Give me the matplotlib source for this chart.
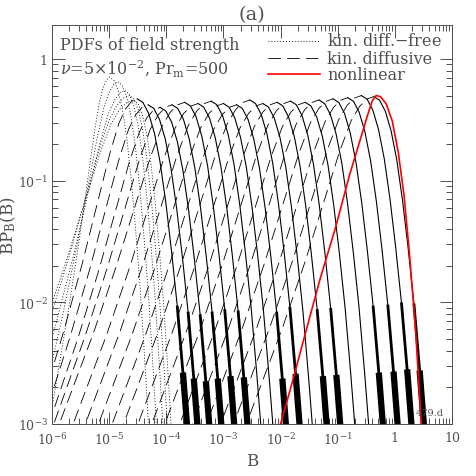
import numpy as np
import matplotlib
matplotlib.use('Agg')
import matplotlib.pyplot as plt

plt.rcParams['font.family'] = 'DejaVu Serif'
plt.rcParams['mathtext.fontset'] = 'dejavuserif'
plt.rcParams['lines.scale_dashes'] = False

# shape of one kinematic PDF, offsets from its peak in decades
left_dlogb = np.array([-2.4, -2.0, -1.6, -1.2, -0.9, -0.6, -0.4, -0.25, -0.12, 0.0])
left_dlogp = np.array([-2.9, -2.4, -1.9, -1.35, -0.9, -0.45, -0.2, -0.08, -0.02, 0.0])
right_dlogb = np.array([0.0, 0.1, 0.2, 0.3, 0.4, 0.5, 0.6, 0.7, 0.8, 0.9, 0.95])
right_dlogp = np.array([0.0, -0.03, -0.12, -0.28, -0.52, -0.85, -1.25, -1.7, -2.25, -2.85, -3.2])

# diffusion-free kinematic runs (dotted)
free_peak_b = [1.03e-5, 1.43e-5, 1.9e-5, 2.3e-5, 2.7e-5]
free_peak_p = [0.71, 0.65, 0.55, 0.50, 0.46]
free_left_w = [0.45, 0.6, 0.75, 0.9, 1.0]
free_right_w = [0.75, 0.75, 0.75, 0.75, 0.75]

# diffusive kinematic runs (dashed)
kin_peak_b = [3.1e-5, 4.8e-5, 7.8e-5, 1.26e-4, 2.1e-4, 3.6e-4, 6.1e-4, 1.0e-3,
              1.7e-3, 2.9e-3, 4.9e-3, 8.7e-3, 1.5e-2, 2.7e-2, 4.7e-2, 8.3e-2,
              0.15, 0.26, 0.43]
kin_peak_p = [0.47, 0.42, 0.40, 0.42, 0.44, 0.43, 0.45, 0.43, 0.42, 0.46,
              0.43, 0.44, 0.45, 0.44, 0.46, 0.47, 0.48, 0.50, 0.49]
kin_left_w = [0.8, 0.85, 0.9, 0.95, 1.0, 1.0, 1.0, 1.0, 1.0, 1.0,
              1.0, 1.0, 1.0, 1.0, 1.0, 1.0, 1.0, 1.0, 1.0]
kin_noisy = [1, 1, 1, 1, 1, 1, 0, 0, 1, 1, 0, 1, 1, 0, 0, 1, 1, 1, 1]

# nonlinear run (red)
nl_b = [1.0e-2, 1.6e-2, 2.7e-2, 5.0e-2, 0.09, 0.16, 0.25, 0.33, 0.4, 0.47,
        0.56, 0.7, 0.9, 1.15, 1.45, 1.8, 2.3, 2.9]
nl_p = [1.0e-3, 2.2e-3, 5.5e-3, 1.6e-2, 4.0e-2, 0.11, 0.22, 0.34, 0.45, 0.5,
        0.49, 0.43, 0.31, 0.17, 0.075, 0.025, 6e-3, 1.0e-3]

fig = plt.figure(figsize=(4.77, 4.77), dpi=100)
ax = fig.add_axes([52/477, 52/477, 400/477, 399/477])
ax.set_xscale('log')
ax.set_yscale('log')

gray = '#505050'

for b0, p0, wl, wr in zip(free_peak_b, free_peak_p, free_left_w, free_right_w):
    lb = 10**(np.log10(b0) + wl*left_dlogb)
    rb = 10**(np.log10(b0) + wr*right_dlogb)
    ax.plot(np.r_[lb, rb[1:]], p0*10**np.r_[left_dlogp, right_dlogp[1:]],
            color='k', lw=0.6, ls=(0, (0.7, 1.4)))

for i, (b0, p0, wl) in enumerate(zip(kin_peak_b, kin_peak_p, kin_left_w)):
    lb = 10**(np.log10(b0) + wl*left_dlogb)
    ax.plot(lb, p0*10**left_dlogp, color='k', lw=0.6, ls=(0, (9, 4.5)))
    rb = 10**(np.log10(b0) + right_dlogb)
    rp = p0*10**right_dlogp
    ax.plot(rb, rp, color='k', lw=0.8)
    if kin_noisy[i]:
        # noisy tails look like thick black smears
        m = rp < 1.5e-2
        ax.plot(rb[m], rp[m], color='k', lw=2, solid_capstyle='butt')
        m = rp < 5e-3
        ax.plot(rb[m], rp[m], color='k', lw=4.5, solid_capstyle='butt')

ax.plot(nl_b, nl_p, color='red', lw=1.2)

ax.set_xlim(1e-6, 10)
ax.set_ylim(1e-3, 1.9)
ax.tick_params(which='both', direction='in', top=True, right=True,
               colors=gray, labelsize=9)
ax.tick_params(which='major', length=9, width=0.7, pad=5)
ax.tick_params(which='minor', length=4.5, width=0.7)
ax.set_xticks([1e-6, 1e-5, 1e-4, 1e-3, 1e-2, 1e-1, 1, 10])
ax.set_xticklabels([r'$10^{-6}$', r'$10^{-5}$', r'$10^{-4}$', r'$10^{-3}$',
                    r'$10^{-2}$', r'$10^{-1}$', '1', '10'])
ax.set_yticks([1e-3, 1e-2, 1e-1, 1])
ax.set_yticklabels([r'$10^{-3}$', r'$10^{-2}$', r'$10^{-1}$', '1'])
ax.tick_params(axis='y', pad=3)
for s in ax.spines.values():
    s.set_color(gray)
    s.set_linewidth(0.7)

ax.set_xlabel('B', color=gray, fontsize=12, labelpad=4)
ax.set_ylabel(r'BP$_{\rm B}$(B)', color=gray, fontsize=12)
ax.yaxis.set_label_coords(-0.085, 0.5)
ax.set_title('(a)', color=gray, fontsize=14, pad=4)

ax.text(0.02, 0.952, 'PDFs of field strength', transform=ax.transAxes,
        color=gray, fontsize=11.5, va='center')
ax.text(0.02, 0.89, r'$\nu$=5$\times$10$^{-2}$, Pr$_{\rm m}$=500',
        transform=ax.transAxes, color=gray, fontsize=11.5, va='center')

rows = [0.96, 0.917, 0.876]
styles = [dict(color='k', lw=0.6, ls=(0, (0.7, 1.4))),
          dict(color='k', lw=0.6, ls=(0, (9, 4.5))),
          dict(color='red', lw=1.2)]
names = ['kin. diff.$-$free', 'kin. diffusive', 'nonlinear']
for yy, st, nm in zip(rows, styles, names):
    ax.plot([0.54, 0.67], [yy, yy], transform=ax.transAxes, **st)
    ax.text(0.6875, yy, nm, transform=ax.transAxes, color=gray,
            fontsize=11.5, va='center')

ax.text(0.945, 0.03, '479.d', transform=ax.transAxes, color=gray,
        fontsize=7, ha='center', va='center')

fig.savefig('out.png', dpi=100)
